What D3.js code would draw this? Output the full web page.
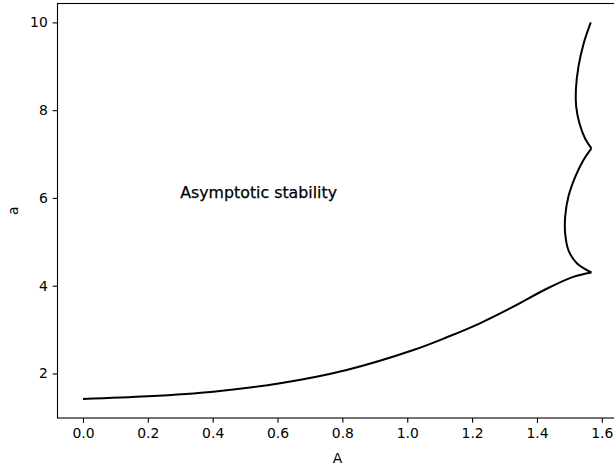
<!DOCTYPE html>
<html>
<head>
<meta charset="utf-8">
<script src="https://cdn.jsdelivr.net/npm/d3@7"></script>
<style>
  html, body { margin: 0; padding: 0; background: #fff; }
  svg { display: block; font-family: "DejaVu Sans", sans-serif; }
</style>
</head>
<body>
<svg id="chart" width="614" height="473"></svg>
<script>
// ---- data ----
const lowerA = [0, 0.2, 0.402, 0.608, 0.813, 1.019, 1.122, 1.224, 1.327, 1.43, 1.512, 1.568];
const lowerY = [1.42, 1.48, 1.584, 1.776, 2.079, 2.534, 2.824, 3.143, 3.521, 3.93, 4.20, 4.30];
const middleA = [1.568, 1.523, 1.497, 1.487, 1.487, 1.497, 1.518, 1.543, 1.568];
const middleY = [4.30, 4.51, 4.81, 5.19, 5.57, 6.03, 6.48, 6.86, 7.13];
const upperA = [1.568, 1.548, 1.531, 1.521, 1.520, 1.528, 1.544, 1.566];
const upperY = [7.13, 7.36, 7.70, 8.08, 8.46, 8.99, 9.52, 10.0];
const xTicks = [0.0, 0.2, 0.4, 0.6, 0.8, 1.0, 1.2, 1.4, 1.6];
const yTicks = [2, 4, 6, 8, 10];
const annotation = { text: "Asymptotic stability", A: 0.3, a: 6 };

// ---- layout ----
const svg = d3.select("#chart");
const mLeft = 57.5, mRight = 617.7, mTop = 3.5, mBottom = 418;

const x = d3.scaleLinear().domain([-0.0785, 1.649]).range([mLeft, mRight]);
const y = d3.scaleLinear().domain([0.985, 10.43]).range([mBottom, mTop]);

const fs = 13.9;
const tickLen = 4.86;

// curve
const line = d3.line().x(d => x(d[0])).y(d => y(d[1])).curve(d3.curveCatmullRom.alpha(0.5));
const segments = [
  lowerA.map((v, i) => [v, lowerY[i]]),
  middleA.map((v, i) => [v, middleY[i]]),
  upperA.map((v, i) => [v, upperY[i]])
];
svg.append("g").selectAll("path").data(segments).join("path")
  .attr("d", line)
  .attr("fill", "none")
  .attr("stroke", "#000")
  .attr("stroke-width", 2)
  .attr("stroke-linejoin", "miter");

// frame
svg.append("rect")
  .attr("x", mLeft).attr("y", mTop)
  .attr("width", mRight - mLeft).attr("height", mBottom - mTop)
  .attr("fill", "none").attr("stroke", "#000").attr("stroke-width", 1.1);

// x axis
const xAxis = d3.axisBottom(x).tickValues(xTicks).tickFormat(d3.format(".1f"))
  .tickSize(tickLen).tickPadding(4.86);
const gx = svg.append("g").attr("transform", `translate(0,${mBottom})`).call(xAxis);
gx.select(".domain").remove();
gx.selectAll(".tick line").attr("stroke", "#000").attr("stroke-width", 1.1);
gx.selectAll(".tick text").attr("fill", "#000").attr("font-size", fs)
  .attr("font-family", "DejaVu Sans");

// y axis
const yAxis = d3.axisLeft(y).tickValues(yTicks).tickFormat(d3.format("d"))
  .tickSize(tickLen).tickPadding(4.86);
const gy = svg.append("g").attr("transform", `translate(${mLeft},0)`).call(yAxis);
gy.select(".domain").remove();
gy.selectAll(".tick line").attr("stroke", "#000").attr("stroke-width", 1.1);
gy.selectAll(".tick text").attr("fill", "#000").attr("font-size", fs)
  .attr("font-family", "DejaVu Sans");

// axis labels
svg.append("text").text("A")
  .attr("x", (mLeft + mRight) / 2).attr("y", 463)
  .attr("text-anchor", "middle").attr("font-size", fs).attr("fill", "#000");
svg.append("text").text("a")
  .attr("transform", `translate(18,${(mTop + mBottom) / 2}) rotate(-90)`)
  .attr("text-anchor", "middle").attr("font-size", fs).attr("fill", "#000");

// annotation
svg.append("text").text(annotation.text)
  .attr("x", x(annotation.A)).attr("y", y(annotation.a))
  .attr("font-size", 15.8).attr("fill", "#000")
  .attr("stroke", "#000").attr("stroke-width", 0.25);
</script>
</body>
</html>
